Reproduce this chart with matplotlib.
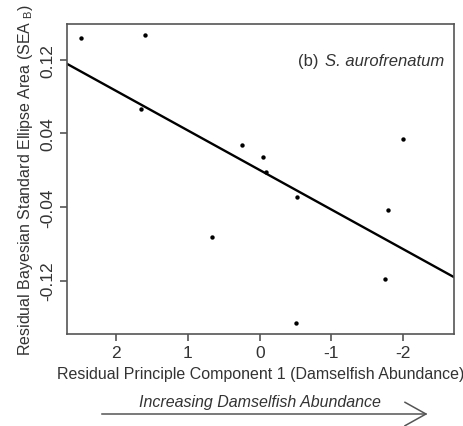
import matplotlib

matplotlib.use("Agg")
import matplotlib.pyplot as plt
from matplotlib.lines import Line2D

plt.rcParams["font.family"] = ["Liberation Sans", "DejaVu Sans"]

# Residual PC1 (damselfish abundance) vs residual SEA_B, S. aurofrenatum
pc1_resid = [2.49, 1.60, 1.66, 0.25, -0.05, -0.09, -0.52, -1.79, -2.00, 0.66, -1.74, -0.50]
sea_resid = [0.1436, 0.147, 0.0667, 0.0277, 0.0139, -0.0017, -0.0296, -0.0436,
             0.0338, -0.073, -0.118, -0.166]

# fitted regression line
fit_intercept = 0.0002
fit_slope = 0.043

x_ticks = [2, 1, 0, -1, -2]
y_ticks = [0.12, 0.04, -0.04, -0.12]

TEXT = "#333333"
SPINE = "#555555"

fig = plt.figure(figsize=(4.63, 4.27), dpi=100)
ax = fig.add_axes([0.144, 0.2155, 0.837, 0.726])

ax.scatter(pc1_resid, sea_resid, s=10, color="black", zorder=3, linewidths=0)
ax.axline((0, fit_intercept), slope=fit_slope, color="black", linewidth=1.7, zorder=2)

ax.set_xlim(2.69, -2.71)
ax.set_ylim(-0.178, 0.159)
ax.set_xticks(x_ticks)
ax.set_xticklabels([str(t) for t in x_ticks])
ax.set_yticks(y_ticks)
ax.set_yticklabels([f"{t:.2f}" for t in y_ticks], rotation=90, va="center")

for s in ax.spines.values():
    s.set_color(SPINE)
    s.set_linewidth(1.2)
ax.tick_params(colors=SPINE, labelcolor=TEXT, length=5, width=1.2, labelsize=12.5, pad=3)

ax.set_xlabel("Residual Principle Component 1 (Damselfish Abundance)",
              fontsize=11.5, color=TEXT, labelpad=4)
ax.set_ylabel("Residual Bayesian Standard Ellipse Area (SEA$_{\\mathregular{\\ B}}$)",
              fontsize=11.5, color=TEXT, labelpad=4)

ax.text(0.596, 0.8806, "(b)", transform=ax.transAxes, fontsize=12, color=TEXT, va="center")
ax.text(0.6664, 0.8806, "S. aurofrenatum", transform=ax.transAxes, fontsize=12,
        color=TEXT, va="center", style="italic")

# arrow under the x axis
fig.text(0.5616, 0.0569, "Increasing Damselfish Abundance", ha="center", va="center",
         fontsize=11.5, style="italic", color=TEXT)
fig.add_artist(Line2D([0.2197, 0.920], [0.0281, 0.0281], transform=fig.transFigure,
                      color=SPINE, linewidth=1.1))
fig.add_artist(Line2D([0.8747, 0.920, 0.8747], [0.0555, 0.0281, 0.0007],
                      transform=fig.transFigure, color=SPINE, linewidth=1.1))

fig.savefig("out.png", dpi=100)
